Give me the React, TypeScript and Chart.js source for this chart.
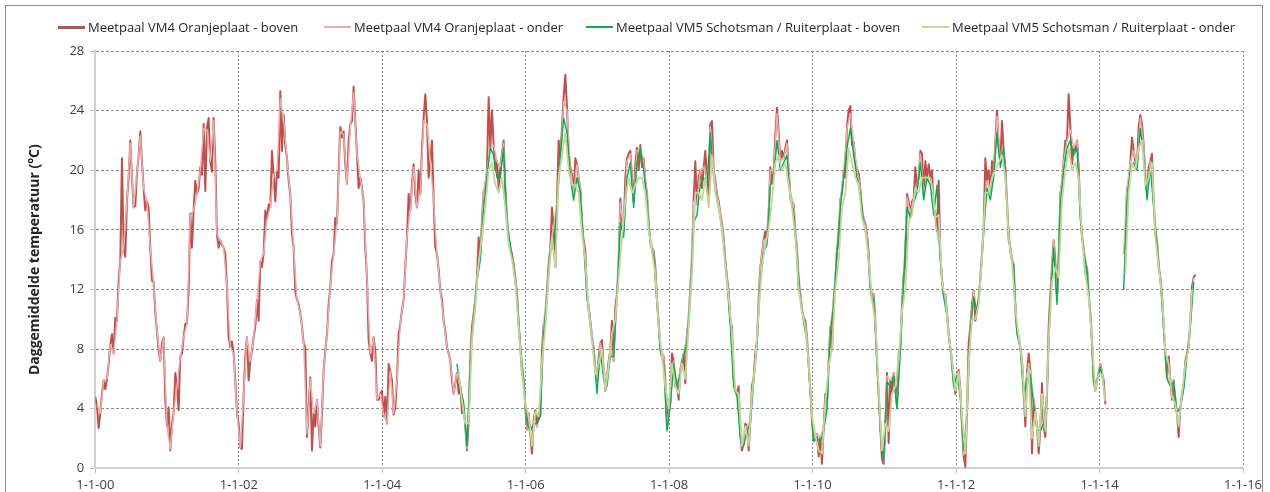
import React, { useEffect, useRef } from "react";
import { Chart, registerables } from "chart.js";

Chart.register(...registerables);

// Read-off samples are spaced evenly in time (about 8.5 days apart), starting 1-1-2000.
const SAMPLE_STEP_YEARS = 0.023236;

const xTickLabels = ["1-1-00", "1-1-02", "1-1-04", "1-1-06", "1-1-08", "1-1-10", "1-1-12", "1-1-14", "1-1-16"];
const yTickValues = [0, 4, 8, 12, 16, 20, 24, 28];

const seriesLabels = [
  "Meetpaal VM4 Oranjeplaat - boven",
  "Meetpaal VM4 Oranjeplaat - onder",
  "Meetpaal VM5 Schotsman / Ruiterplaat - boven",
  "Meetpaal VM5 Schotsman / Ruiterplaat - onder",
];

// first sample index and sample stride of each series
const seriesStart = [0, 1, 217, 218];
const seriesStride = [1, 2, 2, 2];

const vm4Boven = [
  4.8, 4.2, 2.7, 3.7, 5.0, 5.9, 5.3,
  6.0, 7.0, 8.3, 9.0, 7.7, 10.1, 9.9, 12.6, 13.9, 20.8,
  14.8, 14.2, 18.0, 19.5, 22.0, 19.5, 17.5, 17.6, 19.8, 21.0,
  22.6, 20.6, 18.8, 17.3, 17.9, 17.5, 14.8, 12.6, 12.5, 10.5,
  9.2, 7.9, 7.2, 8.4, 8.8, 4.6, 2.8, 4.1, 1.2, 3.0,
  3.7, 6.4, 5.5, 3.9, 7.5, 7.7, 8.8, 9.7, 9.7, 11.9,
  17.1, 14.8, 17.3, 19.3, 18.4, 18.8, 20.2, 19.7, 23.1, 18.6,
  22.9, 23.5, 20.6, 19.9, 23.5, 20.6, 15.7, 14.8, 15.3, 15.0,
  14.8, 14.4, 12.2, 8.8, 8.1, 8.5, 7.7, 5.9, 3.7, 3.0,
  1.4, 1.3, 5.0, 7.5, 8.8, 5.9, 7.2, 7.9, 8.8, 9.5,
  11.3, 9.9, 13.9, 13.5, 14.4, 17.3, 16.7, 17.7, 17.5, 21.3,
  19.7, 17.9, 20.0, 19.5, 25.3, 21.3, 23.7, 21.7, 20.8, 19.3,
  18.4, 15.7, 14.8, 11.9, 11.3, 11.0, 10.4, 9.5, 8.4, 8.1,
  2.1, 4.1, 6.1, 1.2, 3.7, 2.8, 4.6, 2.8, 1.4, 3.7,
  6.6, 7.9, 9.0, 11.0, 12.2, 13.9, 14.4, 16.8, 16.4, 20.0,
  22.9, 22.2, 22.6, 20.4, 19.1, 21.9, 23.1, 23.3, 25.6, 23.3,
  21.1, 18.8, 19.5, 18.8, 17.9, 14.8, 12.8, 8.6, 7.7, 7.2,
  8.8, 7.9, 4.6, 4.6, 5.0, 5.2, 3.5, 4.8, 3.0, 7.0,
  6.5, 5.9, 3.6, 4.1, 5.9, 9.0, 9.7, 10.6, 11.3, 13.5,
  15.5, 18.4, 17.3, 19.1, 20.4, 18.4, 17.5, 20.0, 18.4, 21.5,
  23.5, 25.1, 23.3, 19.5, 20.6, 22.0, 17.9, 14.8, 14.4, 13.3,
  11.9, 11.3, 9.9, 9.2, 8.1, 7.7, 7.2, 5.9, 5.0, 5.7,
  6.4, 5.0, 5.5, 3.7, 4.1, 2.8, 1.2, 3.2, 7.5, 9.5,
  10.4, 11.3, 12.8, 15.5, 14.4, 16.6, 18.6, 18.8, 20.0, 24.9,
  21.5, 24.0, 21.7, 20.0, 20.6, 18.8, 20.2, 21.1, 22.0, 18.4,
  16.8, 15.3, 14.8, 14.4, 13.7, 12.8, 11.7, 9.7, 8.1, 6.4,
  5.9, 4.1, 2.6, 3.7, 2.3, 1.0, 3.2, 3.9, 2.8, 3.7,
  3.5, 7.9, 9.7, 9.9, 11.9, 13.7, 14.8, 17.5, 16.2, 13.5,
  17.9, 22.0, 20.6, 22.9, 24.9, 26.4, 24.2, 21.3, 20.2, 19.7,
  18.4, 20.8, 20.4, 19.5, 18.8, 16.2, 15.3, 14.6, 11.7, 10.8,
  9.9, 8.8, 8.1, 6.6, 5.9, 7.5, 8.4, 8.6, 6.6, 5.2,
  6.1, 7.2, 7.9, 9.9, 7.2, 10.8, 11.7, 13.7, 18.1, 16.6,
  15.9, 19.5, 20.8, 21.1, 21.3, 19.5, 17.9, 20.4, 21.5, 20.0,
  21.7, 20.2, 20.8, 19.3, 18.4, 16.4, 15.3, 14.8, 14.6, 13.5,
  11.3, 9.9, 8.1, 7.7, 7.5, 5.9, 2.8, 4.6, 4.4, 7.7,
  7.2, 5.5, 5.7, 4.6, 6.6, 7.2, 7.7, 5.7, 9.0, 9.9,
  12.2, 13.9, 17.9, 20.6, 17.7, 19.5, 20.0, 18.8, 20.2, 21.3,
  19.3, 17.9, 23.1, 23.3, 20.0, 19.3, 18.4, 17.9, 17.1, 16.4,
  15.5, 13.9, 12.8, 11.9, 9.9, 9.5, 5.9, 5.2, 5.0, 5.5,
  2.3, 1.2, 1.7, 3.0, 2.8, 1.2, 3.2, 5.5, 6.1, 7.7,
  8.6, 11.3, 13.5, 14.4, 15.3, 15.9, 15.3, 17.1, 20.2, 19.1,
  20.0, 22.4, 24.2, 22.6, 20.6, 21.3, 20.8, 21.5, 22.0, 20.0,
  18.4, 17.9, 17.7, 15.7, 14.8, 11.9, 11.7, 10.6, 10.1, 9.9,
  8.8, 7.0, 5.2, 3.2, 1.9, 2.1, 2.3, 0.8, 2.1, 0.3,
  2.8, 5.0, 4.3, 7.2, 9.5, 7.9, 11.3, 12.6, 14.8, 14.8,
  18.0, 18.5, 20.0, 19.5, 23.0, 24.0, 24.3, 21.7, 21.9, 20.6,
  20.0, 19.8, 18.8, 17.1, 16.8, 16.4, 15.7, 14.4, 12.2, 11.3,
  11.7, 9.9, 7.2, 5.0, 2.8, 0.6, 0.3, 2.8, 6.4, 1.7,
  5.9, 5.0, 6.4, 5.5, 4.1, 7.7, 8.1, 11.0, 13.0, 13.5,
  18.4, 17.9, 17.1, 17.9, 18.1, 20.2, 18.8, 19.5, 21.3, 21.1,
  18.4, 20.6, 19.5, 20.4, 19.5, 20.0, 17.5, 17.1, 15.9, 19.3,
  14.4, 12.6, 11.7, 11.7, 10.4, 9.0, 8.1, 7.2, 5.9, 5.0,
  6.4, 6.6, 5.2, 2.8, 0.8, 0.1, 3.9, 8.4, 9.5, 11.0,
  11.9, 9.9, 10.6, 11.3, 12.8, 14.4, 16.2, 20.8, 19.3, 20.0,
  18.5, 20.6, 19.8, 21.8, 24.0, 21.5, 20.6, 23.3, 21.3, 20.2,
  17.9, 15.3, 14.8, 13.9, 13.7, 10.6, 9.2, 8.8, 8.1, 7.2,
  5.2, 2.8, 6.4, 7.7, 6.6, 1.0, 4.6, 3.7, 2.8, 1.0,
  2.8, 5.7, 2.8, 2.1, 5.0, 9.5, 11.7, 13.5, 15.3, 13.9,
  11.3, 13.9, 18.4, 19.1, 20.6, 22.0, 22.0, 25.1, 22.9, 20.4,
  21.5, 21.3, 22.0, 20.2, 17.1, 15.5, 14.8, 13.0, 13.5, 11.7,
  10.4, 8.6, 5.9, 5.2, 5.9, 6.4, 7.0, 6.4, 5.9, 4.3,
  null, null, null, null, null, null, null, null, null, null,
  14.4, 15.0, 18.8, 19.0, 20.6, 22.2, 21.3, 20.6, 20.4, 22.9,
  23.7, 23.1, 21.7, 19.5, 18.4, 20.2, 20.6, 21.1, 17.9, 15.7,
  15.3, 13.5, 12.8, 11.7, 9.5, 7.7, 6.1, 7.5, 5.9, 4.6,
  5.9, 4.1, 3.7, 2.1, 4.1, 5.0, 5.5, 7.2, 7.7, 8.1,
  9.9, 12.2, 12.8, 13.0,
];

const vm4Onder = [
  4.3, 3.7, 5.9, 6.0, 8.3, 7.7, 9.9, 13.9, 14.8, 18.0,
  21.8, 17.5, 19.8, 22.3, 18.8, 17.9, 14.8, 12.5, 9.2, 7.2,
  8.8, 2.8, 1.3, 3.7, 5.5, 7.5, 8.8, 9.7, 17.0, 17.3,
  18.4, 20.0, 22.8, 22.7, 20.6, 23.3, 15.7, 15.3, 14.8, 12.2,
  8.1, 7.7, 3.7, 1.4, 5.0, 8.8, 7.2, 8.8, 11.3, 13.9,
  14.4, 16.7, 17.5, 19.7, 20.0, 24.8, 23.4, 20.8, 18.4, 14.8,
  11.3, 10.4, 8.4, 2.3, 6.0, 3.7, 4.6, 1.5, 6.6, 9.0,
  12.2, 14.4, 16.4, 22.6, 22.4, 19.1, 22.9, 25.2, 21.1, 19.5,
  17.9, 12.8, 7.7, 8.8, 4.6, 5.0, 3.6, 3.0, 6.5, 3.7,
  5.9, 9.7, 11.3, 15.5, 17.3, 20.2, 17.5, 18.4, 23.3, 23.1,
  20.6, 17.9, 14.4, 11.9, 9.9, 8.1, 7.2, 5.0, 6.4, 5.5,
  4.1, 1.3, 7.5, 10.4, 12.8, 14.4, 18.6, 20.0, 21.5, 21.7,
  20.6, 20.2, 21.8, 16.8, 14.8, 13.7, 11.7, 8.1, 5.9, 2.7,
  2.4, 3.2, 2.8, 3.6, 9.7, 11.9, 14.8, 16.2, 17.9, 20.6,
  24.6, 24.0, 20.2, 18.4, 20.4, 18.8, 15.3, 11.7, 9.9, 8.1,
  5.9, 8.4, 6.6, 6.1, 7.9, 7.2, 11.7, 17.8, 15.9, 20.6,
  21.1, 17.9, 21.3, 21.5, 20.6, 18.4, 15.3, 14.6, 11.3, 8.1,
  7.5, 2.9, 4.4, 7.2, 5.7, 6.6, 7.7, 9.0, 12.2, 17.9,
  17.7, 20.0, 20.2, 19.3, 22.9, 20.0, 18.4, 17.1, 15.5, 12.8,
  9.9, 5.9, 5.0, 2.4, 1.7, 2.8, 3.2, 6.1, 8.6, 13.5,
  15.3, 15.3, 20.0, 20.0, 23.8, 20.6, 20.8, 21.8, 18.4, 17.7,
  14.8, 11.7, 10.1, 8.8, 5.2, 2.0, 2.3, 2.1, 2.8, 4.3,
  9.5, 11.3, 14.8, 18.0, 20.0, 22.8, 23.8, 21.9, 20.0, 18.8,
  16.8, 15.7, 12.2, 11.7, 7.2, 2.8, 0.5, 6.2, 5.9, 6.4,
  4.1, 8.1, 13.0, 18.2, 17.1, 18.1, 18.8, 21.1, 18.4, 19.5,
  19.5, 17.5, 15.9, 14.4, 11.7, 10.4, 8.1, 5.9, 6.4, 5.2,
  0.9, 3.9, 9.5, 11.9, 10.6, 12.8, 16.2, 19.3, 18.5, 19.8,
  23.6, 20.6, 21.3, 17.9, 14.8, 13.7, 9.2, 8.1, 5.2, 6.4,
  6.6, 4.6, 2.8, 2.8, 2.8, 5.0, 11.7, 15.3, 11.3, 18.4,
  20.6, 22.0, 22.7, 21.5, 22.0, 17.1, 14.8, 13.5, 10.4, 5.9,
  5.9, 7.0, 5.9, null, null, null, null, null, 14.4, 18.8,
  20.6, 21.3, 20.4, 23.5, 21.7, 18.4, 20.6, 17.9, 15.3, 12.8,
  9.5, 6.1, 5.9, 5.9, 3.7, 4.1, 5.5, 7.7, 9.9, 12.8,
];

const vm5Boven = [
  7.0, 5.5, 4.4, 1.5, 7.0, 10.0, 12.5, 14.0, 17.5, 19.5,
  21.5, 21.0, 19.5, 19.5, 21.5, 16.5, 15.0, 13.5, 11.5, 8.3,
  6.0, 3.0, 2.5, 3.0, 3.0, 3.5, 9.0, 11.5, 14.5, 15.0,
  17.5, 21.0, 23.5, 22.5, 19.5, 18.0, 19.5, 18.5, 15.0, 11.5,
  9.5, 7.8, 5.0, 7.8, 6.0, 5.5, 7.5, 7.5, 11.5, 16.5,
  15.5, 19.5, 20.5, 17.5, 20.5, 21.5, 20.0, 18.0, 15.0, 14.3,
  11.0, 7.8, 7.0, 2.5, 4.2, 7.0, 5.5, 6.3, 7.5, 8.5,
  11.5, 16.5, 17.0, 19.0, 19.5, 19.0, 22.5, 19.5, 18.0, 16.8,
  15.0, 12.5, 9.5, 5.5, 4.8, 2.0, 1.5, 2.5, 3.0, 5.8,
  8.2, 12.5, 14.5, 15.0, 19.0, 19.5, 22.0, 20.0, 20.5, 21.0,
  18.0, 17.2, 14.3, 11.5, 9.8, 8.5, 5.0, 1.8, 2.0, 1.8,
  2.5, 4.0, 9.0, 11.0, 14.5, 17.5, 19.5, 21.5, 22.8, 21.0,
  19.5, 18.5, 16.5, 15.3, 12.0, 11.3, 7.0, 2.5, 0.5, 5.8,
  5.5, 6.2, 4.0, 7.8, 12.5, 17.5, 16.8, 17.8, 18.5, 20.5,
  18.0, 19.5, 19.0, 17.0, 19.0, 14.0, 11.5, 10.2, 8.0, 5.5,
  6.2, 4.8, 1.2, 3.5, 9.2, 11.5, 10.5, 12.5, 15.8, 18.8,
  18.0, 19.5, 22.5, 20.2, 21.5, 17.5, 14.5, 13.5, 9.0, 8.0,
  4.8, 6.0, 6.3, 4.2, 2.6, 2.5, 3.0, 5.0, 11.2, 14.8,
  11.0, 17.8, 20.0, 21.5, 22.0, 21.0, 21.5, 16.8, 14.5, 13.3,
  10.2, 5.8, 5.8, 6.8, 5.5, null, null, null, null, null,
  12.0, 18.0, 20.0, 20.5, 20.0, 22.8, 21.0, 18.0, 20.2, 17.5,
  15.0, 12.5, 9.3, 6.0, 5.5, 5.8, 3.8, 4.0, 5.3, 7.5,
  9.5, 12.5,
];

const vm5Onder = [
  6.5, 4.5, 3.0, 3.0, 8.5, 10.8, 13.8, 15.5, 17.5, 20.0,
  20.5, 19.0, 18.5, 19.5, 17.5, 15.0, 14.0, 12.5, 9.5, 6.5,
  4.3, 3.5, 1.5, 3.8, 3.5, 7.0, 9.5, 12.8, 15.5, 13.5,
  19.5, 21.0, 22.5, 20.0, 19.0, 19.0, 18.5, 15.8, 14.0, 10.5,
  8.5, 6.3, 7.0, 8.0, 5.2, 6.8, 9.0, 10.0, 12.8, 15.5,
  18.0, 19.5, 18.5, 19.0, 19.5, 19.5, 18.5, 16.0, 14.5, 13.0,
  9.5, 7.5, 5.5, 4.0, 7.0, 5.5, 5.0, 7.0, 6.0, 9.5,
  13.0, 18.5, 18.5, 18.0, 19.5, 17.5, 21.0, 18.5, 17.5, 16.0,
  13.5, 11.5, 9.0, 5.2, 5.0, 1.5, 2.8, 1.5, 5.0, 7.0,
  10.5, 13.5, 15.0, 16.0, 18.0, 20.5, 21.0, 20.0, 20.5, 19.0,
  17.5, 15.5, 12.0, 10.5, 9.5, 7.0, 3.5, 2.2, 1.2, 1.0,
  4.5, 6.8, 8.0, 12.0, 14.0, 17.5, 18.5, 21.5, 20.5, 19.5,
  19.0, 16.8, 16.0, 14.0, 11.3, 9.8, 5.2, 1.2, 3.0, 2.5,
  5.0, 5.5, 7.3, 10.5, 12.0, 16.5, 17.0, 18.8, 18.5, 19.5,
  19.5, 19.5, 19.0, 16.8, 17.0, 12.5, 11.5, 9.0, 7.2, 5.2,
  6.5, 3.5, 1.0, 7.0, 10.0, 10.0, 11.0, 14.0, 18.5, 18.5,
  19.5, 20.0, 20.5, 21.0, 19.5, 15.5, 13.8, 10.8, 8.8, 7.2,
  3.5, 7.0, 2.0, 3.8, 1.5, 5.0, 2.5, 8.5, 12.5, 13.5,
  12.8, 18.0, 20.0, 21.5, 20.0, 20.5, 19.5, 15.5, 13.0, 11.5,
  8.5, 5.2, 6.3, 6.3, 4.5, null, null, null, null, null,
  13.0, 18.5, 20.5, 20.0, 21.5, 22.0, 19.0, 19.5, 20.5, 15.5,
  13.5, 11.5, 7.8, 7.0, 4.8, 4.3, 2.8, 5.0, 7.0, 8.0,
  12.0,
];

const seriesValues = [vm4Boven, vm4Onder, vm5Boven, vm5Onder];

// styles
const seriesColors = ["#C0504D", "#E6B0AE", "#00B050", "#C3D69B"];
const seriesWidths = [2.0, 1.4, 1.4, 1.8];
const legendLineWidths = [3, 1.5, 1.5, 1.5];
const legendTextLeft = [88, 354, 616, 952];

const FONT = "'Open Sans', 'Liberation Sans', sans-serif";

function toPoints(values: (number | null)[], start: number, stride: number) {
  return values.map((v, i) => ({ x: (start + i * stride) * SAMPLE_STEP_YEARS, y: v }));
}

export default function App() {
  const canvasRef = useRef<HTMLCanvasElement | null>(null);

  useEffect(() => {
    const canvas = canvasRef.current;
    if (!canvas) return;
    const chart = new Chart(canvas, {
      type: "line",
      data: {
        datasets: seriesValues.map((vals, i) => ({
          label: seriesLabels[i],
          data: toPoints(vals, seriesStart[i], seriesStride[i]) as any,
          borderColor: seriesColors[i],
          backgroundColor: seriesColors[i],
          borderWidth: seriesWidths[i],
          pointRadius: 0,
          tension: 0,
          spanGaps: false,
          borderJoinStyle: "round" as const,
          order: seriesValues.length - i,
        })),
      },
      options: {
        responsive: false,
        animation: false,
        devicePixelRatio: 1,
        events: [],
        layout: { padding: { left: 0, top: 51, right: 27, bottom: 11.7 } },
        plugins: {
          legend: { display: false },
          tooltip: { enabled: false },
        },
        scales: {
          x: {
            type: "linear",
            min: 0,
            max: 16,
            afterFit: (scale: any) => {
              scale.height = 30;
            },
            ticks: {
              stepSize: 2,
              autoSkip: false,
              maxRotation: 0,
              padding: 4,
              color: "#404040",
              font: { family: FONT, size: 13 },
              callback: (value: any) => {
                const idx = Number(value) / 2;
                return Number.isInteger(idx) ? xTickLabels[idx] : "";
              },
            },
            grid: {
              color: "#8c8c8c",
              lineWidth: 1,
              drawTicks: true,
              tickLength: 5,
              tickColor: "#bfbfbf",
              tickBorderDash: [],
            },
            border: { display: true, color: "#d0d0d0", width: 2, dash: [2, 2] },
          },
          y: {
            min: 0,
            max: 28,
            afterFit: (scale: any) => {
              scale.width = 95.3;
            },
            afterBuildTicks: (scale: any) => {
              scale.ticks = yTickValues.map((v) => ({ value: v }));
            },
            ticks: {
              padding: 6,
              color: "#404040",
              font: { family: FONT, size: 13 },
            },
            grid: {
              color: "#8c8c8c",
              lineWidth: 1,
              drawTicks: true,
              tickLength: 5,
              tickColor: "#bfbfbf",
              tickBorderDash: [],
            },
            border: { display: true, color: "#d0d0d0", width: 2, dash: [3, 2] },
            title: {
              display: true,
              text: "Daggemiddelde temperatuur (\u00B0C)",
              color: "#262626",
              font: { family: FONT, size: 14, weight: "bold" },
              padding: { top: 27, bottom: 0 },
            },
          },
        },
      },
    });
    return () => chart.destroy();
  }, []);

  return (
    <div
      style={{
        position: "fixed",
        left: 0,
        top: 0,
        width: 1270,
        height: 492,
        overflow: "hidden",
        background: "#ffffff",
      }}
    >
      <div
        style={{
          position: "absolute",
          left: 5,
          top: 5,
          width: 1258,
          height: 600,
          border: "1px solid #8c8c8c",
          boxSizing: "border-box",
        }}
      />
      <canvas
        ref={canvasRef}
        width={1270}
        height={510}
        style={{ position: "absolute", left: 0, top: 0, width: 1270, height: 510 }}
      />
      {seriesLabels.map((label, i) => (
        <div
          key={label}
          style={{
            position: "absolute",
            left: legendTextLeft[i] - 30,
            top: 17,
            height: 20,
            display: "flex",
            alignItems: "center",
            whiteSpace: "nowrap",
            fontFamily: FONT,
            fontSize: 13,
            color: "#262626",
          }}
        >
          <span
            style={{
              display: "inline-block",
              width: 27,
              height: legendLineWidths[i],
              background: seriesColors[i],
              marginRight: 3,
            }}
          />
          <span>{label}</span>
        </div>
      ))}
    </div>
  );
}
